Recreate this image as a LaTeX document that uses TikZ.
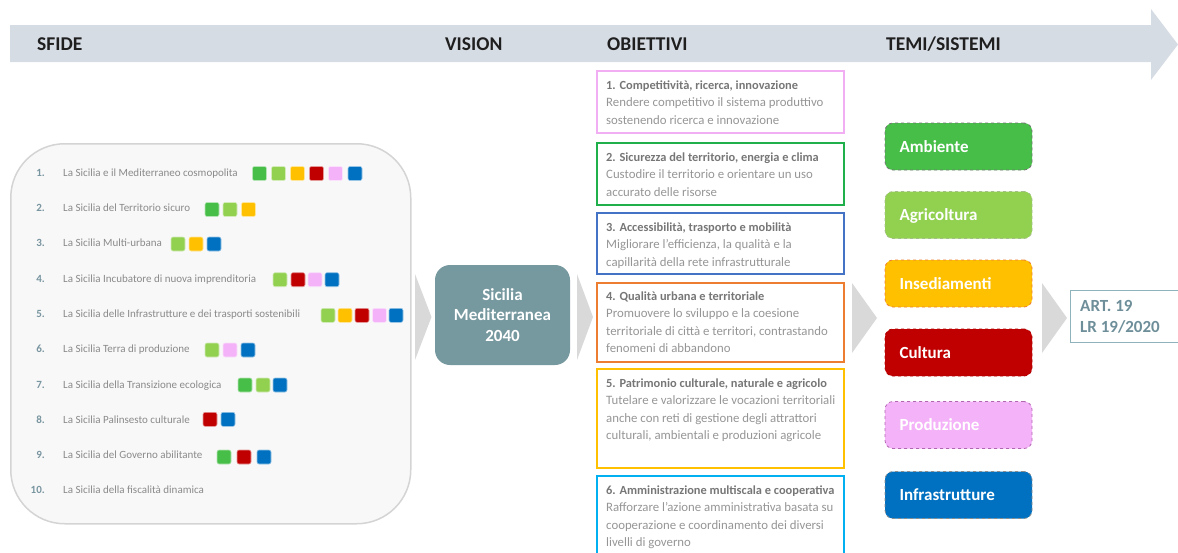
\documentclass[tikz,border=0pt]{standalone}
\usepackage{fontspec}
\setmainfont{Carlito}
\definecolor{hdrc}{HTML}{D6DCE4}
\definecolor{chevc}{HTML}{D9D9D9}
\definecolor{panelf}{HTML}{F8F8F8}
\definecolor{paneld}{HTML}{D4D4D4}
\definecolor{numc}{HTML}{7895A0}
\definecolor{itmc}{HTML}{8A8A8A}
\definecolor{cA}{HTML}{46BE48}
\definecolor{cAg}{HTML}{92D050}
\definecolor{cIn}{HTML}{FFC000}
\definecolor{cCu}{HTML}{C00000}
\definecolor{cPr}{HTML}{F4B3F8}
\definecolor{cIf}{HTML}{0070C0}
\definecolor{visc}{HTML}{76989F}
\definecolor{ttlc}{HTML}{767676}
\definecolor{bodyc}{HTML}{959595}
\definecolor{o1c}{HTML}{F2AEF2}
\definecolor{o2c}{HTML}{1FB04C}
\definecolor{o3c}{HTML}{4472C4}
\definecolor{o4c}{HTML}{ED7D31}
\definecolor{o5c}{HTML}{FFC000}
\definecolor{o6c}{HTML}{00B0F0}
\definecolor{artd}{HTML}{8FB3BD}
\definecolor{artt}{HTML}{6E8E99}
\newcommand\otitle[1]{{\color{ttlc}\fontsize{12.4}{17.5}\selectfont\bfseries #1}}
\begin{document}
\begin{tikzpicture}[x=1pt,y=-1pt,
  hdrtxt/.style={anchor=base west,inner sep=0,font=\fontsize{19.5}{22}\selectfont\bfseries,text=black!88},
  panel/.style={draw=paneld,line width=1.5pt,fill=panelf,rounded corners=54pt,anchor=north west,minimum width=400pt,minimum height=380pt,inner sep=0},
  num/.style={anchor=east,inner sep=0,font=\fontsize{11}{13}\selectfont\bfseries,text=numc,text height=8pt,text depth=2.5pt},
  itm/.style={anchor=west,inner sep=0,font=\fontsize{11}{13}\selectfont,text=itmc,text height=8pt,text depth=2.5pt},
  sq/.style={minimum size=14pt,inner sep=0,rounded corners=2pt,draw=white!60!#1,fill=#1,line width=0.6pt},
  chev/.style={fill=chevc},
  vbox/.style={fill=visc,rounded corners=15pt,minimum width=135pt,minimum height=100pt,inner sep=0,align=center,text=white,font=\fontsize{17}{20.5}\selectfont\bfseries},
  obox/.style={draw=#1,line width=1.8pt,anchor=north west,minimum width=247pt,inner sep=0},
  otxt/.style={anchor=base west,inner sep=0,align=left,text=bodyc,font=\fontsize{12.8}{17.5}\selectfont},
  tbox/.style={rounded corners=8pt,dashed,line width=0.8pt,minimum width=147pt,minimum height=47pt,text width=118pt,inner xsep=14.5pt,inner ysep=0,align=left,text=white,font=\fontsize{17}{20}\selectfont\bfseries,text height=11pt,text depth=0pt},
  artbox/.style={draw=artd,line width=1pt,anchor=north west,minimum width=120pt,minimum height=52pt,inner sep=0},
  arttxt/.style={anchor=base west,inner sep=0,align=left,text=artt,font=\fontsize{17}{20.5}\selectfont\bfseries}
]
\useasboundingbox (0,0) rectangle (1178,552);
\clip (0,0) rectangle (1178,552);
% header arrow
\fill[hdrc] (10,25) -- (1151,25) -- (1151,9) -- (1178,44.5) -- (1151,80) -- (1151,62) -- (10,62) -- cycle;
\node[hdrtxt] (hsfide) at (37,50) {SFIDE};
\node[hdrtxt] (hvision) at (445,50) {VISION};
\node[hdrtxt] (hobj) at (607,50) {OBIETTIVI};
\node[hdrtxt] (htemi) at (886,50) {TEMI/SISTEMI};
% left panel
\node[panel] (panel) at (10,143) {};
\foreach \n/\t [evaluate=\n as \yy using 173.5+(\n-1)*35.3] in {
  1/La Sicilia e il Mediterraneo cosmopolita,
  2/La Sicilia del Territorio sicuro,
  3/La Sicilia Multi-urbana,
  4/La Sicilia Incubatore di nuova imprenditoria,
  5/La Sicilia delle Infrastrutture e dei trasporti sostenibili,
  6/La Sicilia Terra di produzione,
  7/La Sicilia della Transizione ecologica,
  8/La Sicilia Palinsesto culturale,
  9/La Sicilia del Governo abilitante,
  10/La Sicilia della fiscalità dinamica}{
  \node[num] (n\n) at (45,\yy) {\n.};
  \node[itm] (t\n) at (63,\yy) {\t};
}
\foreach \x/\y/\c [count=\i] in {
  259.5/173.5/cA, 278.5/173.5/cAg, 297.5/173.5/cIn, 316.5/173.5/cCu, 335.5/173.5/cPr, 355/173.5/cIf,
  212/209.5/cA, 230/209.5/cAg, 248.5/209.5/cIn,
  178/244/cAg, 196/244/cIn, 214/244/cIf,
  280/279.7/cAg, 298/279.7/cCu, 315/279.7/cPr, 332/279.7/cIf,
  328/315.3/cAg, 345/315.3/cIn, 362/315.3/cCu, 379.5/315.3/cPr, 396/315.3/cIf,
  212/350/cAg, 230/350/cPr, 248/350/cIf,
  245/385/cA, 263/385/cAg, 280/385/cIf,
  210/419.3/cCu, 228/419.3/cIf,
  224/457/cA, 244/457/cCu, 264/457/cIf}{
  \node[sq=\c] (sq\i) at (\x,\y) {};
}
% chevrons
\fill[chev] (415,274) -- (431.5,317) -- (415,360) -- cycle;
\fill[chev] (577,274) -- (593,317) -- (577,360) -- cycle;
\fill[chev] (852,283) -- (877,318) -- (852,353) -- cycle;
\fill[chev] (1042,283) -- (1067,318) -- (1042,353) -- cycle;
% vision
\node[vbox] (vision) at (502.5,315) {Sicilia\\Mediterranea\\2040};
% objectives (base anchor = baseline of the last line)
\node[obox=o1c,minimum height=62pt] (ob1) at (596,70) {};
\node[otxt] (ot1) at (606,124) {\otitle{1. Competitività, ricerca, innovazione}\\Rendere competitivo il sistema produttivo\\sostenendo ricerca e innovazione};
\node[obox=o2c,minimum height=62pt] (ob2) at (596,142) {};
\node[otxt] (ot2) at (606,196) {\otitle{2. Sicurezza del territorio, energia e clima}\\Custodire il territorio e orientare un uso\\accurato delle risorse};
\node[obox=o3c,minimum height=61pt] (ob3) at (596,212) {};
\node[otxt] (ot3) at (606,266) {\otitle{3. Accessibilità, trasporto e mobilità}\\Migliorare l’efficienza, la qualità e la\\capillarità della rete infrastrutturale};
\node[obox=o4c,minimum height=79pt] (ob4) at (596,282) {};
\node[otxt] (ot4) at (606,352.5) {\otitle{4. Qualità urbana e territoriale}\\Promuovere lo sviluppo e la coesione\\territoriale di città e territori, contrastando\\fenomeni di abbandono};
\node[obox=o5c,minimum height=99pt] (ob5) at (596,368) {};
\node[otxt] (ot5) at (606,439.5) {\otitle{5. Patrimonio culturale, naturale e agricolo}\\Tutelare e valorizzare le vocazioni territoriali\\anche con reti di gestione degli attrattori\\culturali, ambientali e produzioni agricole};
\node[obox=o6c,minimum height=90pt] (ob6) at (596,475) {};
\node[otxt] (ot6) at (606,546.5) {\otitle{6. Amministrazione multiscala e cooperativa}\\Rafforzare l’azione amministrativa basata su\\cooperazione e coordinamento dei diversi\\livelli di governo};
% themes
\node[tbox,fill=cA,draw=black!55] (th1) at (958.5,146.5) {Ambiente};
\node[tbox,fill=cAg,draw=cAg!70!black!60] (th2) at (958.5,215) {Agricoltura};
\node[tbox,fill=cIn,draw=o4c] (th3) at (958.5,283.5) {Insediamenti};
\node[tbox,fill=cCu,draw=red!70!black] (th4) at (958.5,352.5) {Cultura};
\node[tbox,fill=cPr,draw=violet!60] (th5) at (958.5,425) {Produzione};
\node[tbox,fill=cIf,draw=black!45] (th6) at (958.5,495) {Infrastrutture};
% art box
\node[artbox] (art) at (1070,290) {};
\node[arttxt] (arttext) at (1080,332) {ART. 19\\LR 19/2020};
\end{tikzpicture}
\end{document}
